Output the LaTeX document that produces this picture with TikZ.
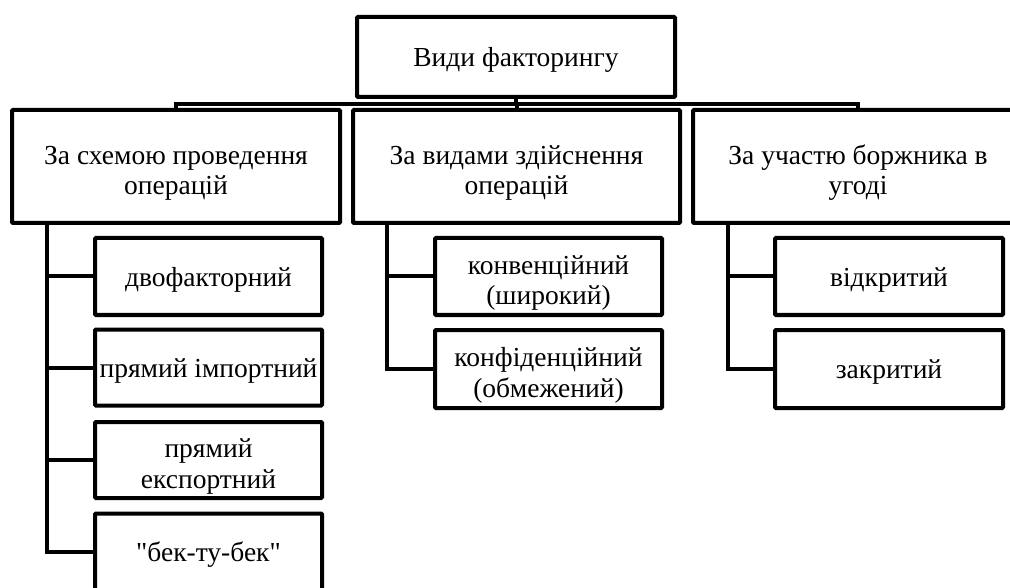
\documentclass[tikz,border=0pt]{standalone}
\usepackage{fontspec}
\setmainfont{Liberation Serif}[Ligatures=TeXOff]
\newcommand{\tallstrut}{\rule{0pt}{32pt}}
\begin{document}
\begin{tikzpicture}[x=1pt,y=-1pt,
  box/.style={draw=black,line width=4pt,rounded corners=1pt,fill=white,align=center,inner sep=0pt,font=\fontsize{27.5}{30.5}\selectfont,execute at begin node={\rule{0pt}{25pt}}},
  twoline/.style={draw=black,line width=4pt,rounded corners=1pt,fill=white,align=center,inner sep=0pt,font=\fontsize{27.5}{30.5}\selectfont},
  conn/.style={draw=black,line width=4pt}]
\useasboundingbox (0,0) rectangle (1010,588);
\clip (0,0) rectangle (1010,588);
% top
\node[box,minimum width=318pt,minimum height=80pt] (top) at (516,57) {Види факторингу};
% level 2
\node[twoline,minimum width=328pt,minimum height=113pt] (b1) at (176,166.5) {\tallstrut За схемою проведення\\операцій};
\node[twoline,minimum width=327pt,minimum height=113pt] (b2) at (516.5,166.5) {\tallstrut За видами здійснення\\операцій};
\node[twoline,minimum width=330pt,minimum height=113pt] (b3) at (858,166.5) {\tallstrut За участю боржника в\\угоді};
% column 1
\node[box,minimum width=227pt,minimum height=77pt] (c1) at (208.5,276.5) {двофакторний};
\node[box,minimum width=227pt,minimum height=76pt] (c2) at (208.5,367.5) {прямий імпортний};
\node[twoline,minimum width=227pt,minimum height=76pt] (c3) at (208.5,460) {\tallstrut прямий\\експортний};
\node[box,minimum width=227pt,minimum height=77pt] (c4) at (208.5,552) {"бек-ту-бек"};
% column 2
\node[twoline,minimum width=227pt,minimum height=77pt] (d1) at (548.5,276.5) {\tallstrut конвенційний\\(широкий)};
\node[twoline,minimum width=227pt,minimum height=78pt] (d2) at (548.5,369) {\tallstrut конфіденційний\\(обмежений)};
% column 3
\node[box,minimum width=228pt,minimum height=77pt] (e1) at (889,276.5) {відкритий};
\node[box,minimum width=228pt,minimum height=78pt] (e2) at (889,369) {закритий};
% bus
\coordinate (bus) at (516,104);
\coordinate (v1) at (47,223);
\coordinate (v2) at (387,223);
\coordinate (v3) at (728,223);
\draw[conn] (top.south) -- (bus);
\draw[conn] (b1.north) |- (bus) -| (b3.north);
\draw[conn] (b2.north) -- (b2.north |- bus);
\draw[conn] (v1) |- (c4.west);
\draw[conn] (v1 |- c1.west) -- (c1.west);
\draw[conn] (v1 |- c2.west) -- (c2.west);
\draw[conn] (v1 |- c3.west) -- (c3.west);
\draw[conn] (v2) |- (d2.west);
\draw[conn] (v2 |- d1.west) -- (d1.west);
\draw[conn] (v3) |- (e2.west);
\draw[conn] (v3 |- e1.west) -- (e1.west);
\end{tikzpicture}
\end{document}
